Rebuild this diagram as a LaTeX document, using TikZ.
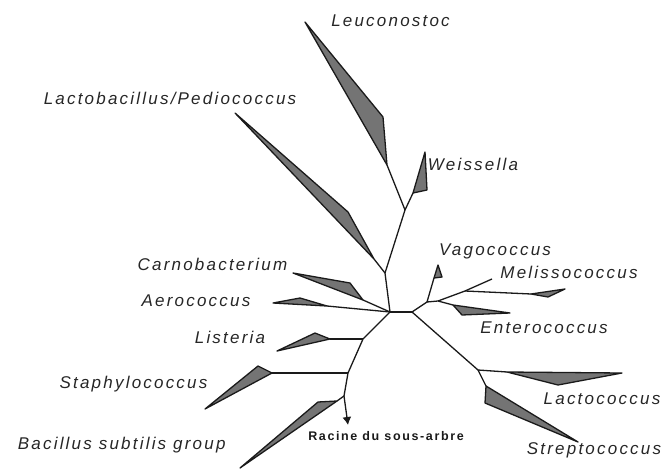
\documentclass[tikz,border=0pt]{standalone}
\usepackage{fontspec}
\setmainfont{Liberation Sans}[LetterSpace=13]
\usetikzlibrary{arrows.meta}
\definecolor{CladeGray}{HTML}{747474}
\definecolor{BranchBlack}{HTML}{1A1A1A}
\definecolor{LabelGray}{HTML}{262626}
\tikzset{
  branch/.style={draw=BranchBlack, line width=1.3pt, line join=round},
  clade/.style={draw=BranchBlack, fill=CladeGray, line width=1.3pt, line join=round},
  taxon/.style={anchor=base, inner sep=0pt, text=LabelGray, font=\fontsize{17}{19}\selectfont\itshape},
  rootlabel/.style={anchor=base, inner sep=0pt, text=BranchBlack, font=\fontsize{12.5}{14}\selectfont\bfseries},
  rootarrow/.style={-{Latex[length=8pt, width=9pt]}, line width=1.3pt, draw=BranchBlack}
}

\begin{document}
\begin{tikzpicture}[x=1pt, y=-1pt]
\useasboundingbox (0,0) rectangle (663,468);
% inner nodes of the tree
\coordinate (cL) at (390,312);
\coordinate (cR) at (412,312);
\coordinate (nA) at (385,273);
\coordinate (nW) at (405,210);
\coordinate (nLi) at (363,339);
\coordinate (nSt) at (348,373);
\coordinate (nB) at (344,396);
\coordinate (nV) at (427,302);
\coordinate (nE) at (438,301);
\coordinate (nM) at (465,291);
\coordinate (nS) at (478,370);
\coordinate (rootEnd) at (348,425);
% clades: base, tip, side
\coordinate (leuB) at (387,165); \coordinate (leuT) at (305,22); \coordinate (leuS) at (383,117);
\coordinate (lpB) at (374,259); \coordinate (lpT) at (235,113); \coordinate (lpS) at (348,212);
\coordinate (weiB) at (413,193); \coordinate (weiT) at (425,152); \coordinate (weiS) at (427,190);
\coordinate (carB) at (363,300); \coordinate (carT) at (293,273); \coordinate (carS) at (350,283);
\coordinate (aerB) at (327,306); \coordinate (aerT) at (273,303); \coordinate (aerS) at (300,298);
\coordinate (lisB) at (330,339); \coordinate (lisT) at (277,351); \coordinate (lisS) at (315,333);
\coordinate (staB) at (272,373); \coordinate (staT) at (205,409); \coordinate (staS) at (258,366);
\coordinate (bacB) at (337,401); \coordinate (bacT) at (240,468); \coordinate (bacS) at (318,402);
\coordinate (vagB) at (434,278); \coordinate (vagT) at (438,265); \coordinate (vagS) at (442,277);
\coordinate (melT) at (492,279);
\coordinate (tetB) at (531,294); \coordinate (tetT) at (565,289); \coordinate (tetS) at (548,297);
\coordinate (entB) at (453,305); \coordinate (entT) at (510,313); \coordinate (entS) at (462,315);
\coordinate (lacB) at (507,372); \coordinate (lacT) at (622,373); \coordinate (lacS) at (558,385);
\coordinate (strB) at (486,386); \coordinate (strT) at (578,442); \coordinate (strS) at (485,403);

\draw[branch] (cL) -- (cR);
\draw[branch] (cL) -- (nA) -- (nW) -- (leuB);
\draw[branch] (nA) -- (lpB);
\draw[branch] (nW) -- (weiB);
\draw[branch] (cL) -- (carB);
\draw[branch] (cL) -- (aerB);
\draw[branch] (cL) -- (nLi) -- (nSt) -- (nB);
\draw[branch] (nLi) -- (lisB);
\draw[branch] (nSt) -- (staB);
\draw[branch] (nB) -- (bacB);
\draw[rootarrow] (nB) -- (rootEnd);
\draw[branch] (cR) -- (nV) -- (vagB);
\draw[branch] (nV) -- (nE) -- (entB);
\draw[branch] (nE) -- (nM) -- (melT);
\draw[branch] (nM) -- (tetB);
\draw[branch] (cR) -- (nS) -- (lacB);
\draw[branch] (nS) -- (strB);

\draw[clade] (leuB) -- (leuT) -- (leuS) -- cycle;
\draw[clade] (lpB) -- (lpT) -- (lpS) -- cycle;
\draw[clade] (weiB) -- (weiT) -- (weiS) -- cycle;
\draw[clade] (carB) -- (carT) -- (carS) -- cycle;
\draw[clade] (aerB) -- (aerT) -- (aerS) -- cycle;
\draw[clade] (lisB) -- (lisT) -- (lisS) -- cycle;
\draw[clade] (staB) -- (staT) -- (staS) -- cycle;
\draw[clade] (bacB) -- (bacT) -- (bacS) -- cycle;
\draw[clade] (vagB) -- (vagT) -- (vagS) -- cycle;
\draw[clade] (tetB) -- (tetT) -- (tetS) -- cycle;
\draw[clade] (entB) -- (entT) -- (entS) -- cycle;
\draw[clade] (lacB) -- (lacT) -- (lacS) -- cycle;
\draw[clade] (strB) -- (strT) -- (strS) -- cycle;

\node[taxon] (leuL) at (390.5,27) {Leuconostoc};
\node[taxon] (lpL) at (170,105) {Lactobacillus/Pediococcus};
\node[taxon] (weiL) at (473,170) {Weissella};
\node[taxon] (vagL) at (495,255) {Vagococcus};
\node[taxon] (melL) at (569,278) {Melissococcus};
\node[taxon] (entL) at (544,333) {Enterococcus};
\node[taxon] (lacL) at (602,404) {Lactococcus};
\node[taxon] (strL) at (594,454) {Streptococcus};
\node[taxon] (carL) at (212.5,270) {Carnobacterium};
\node[taxon] (aerL) at (196,306) {Aerococcus};
\node[taxon] (lisL) at (230,343) {Listeria};
\node[taxon] (staL) at (133.5,388) {Staphylococcus};
\node[taxon] (bacL) at (121.7,449) {Bacillus subtilis group};
\node[rootlabel] (rootL) at (386,440) {Racine du sous-arbre};
\end{tikzpicture}
\end{document}
